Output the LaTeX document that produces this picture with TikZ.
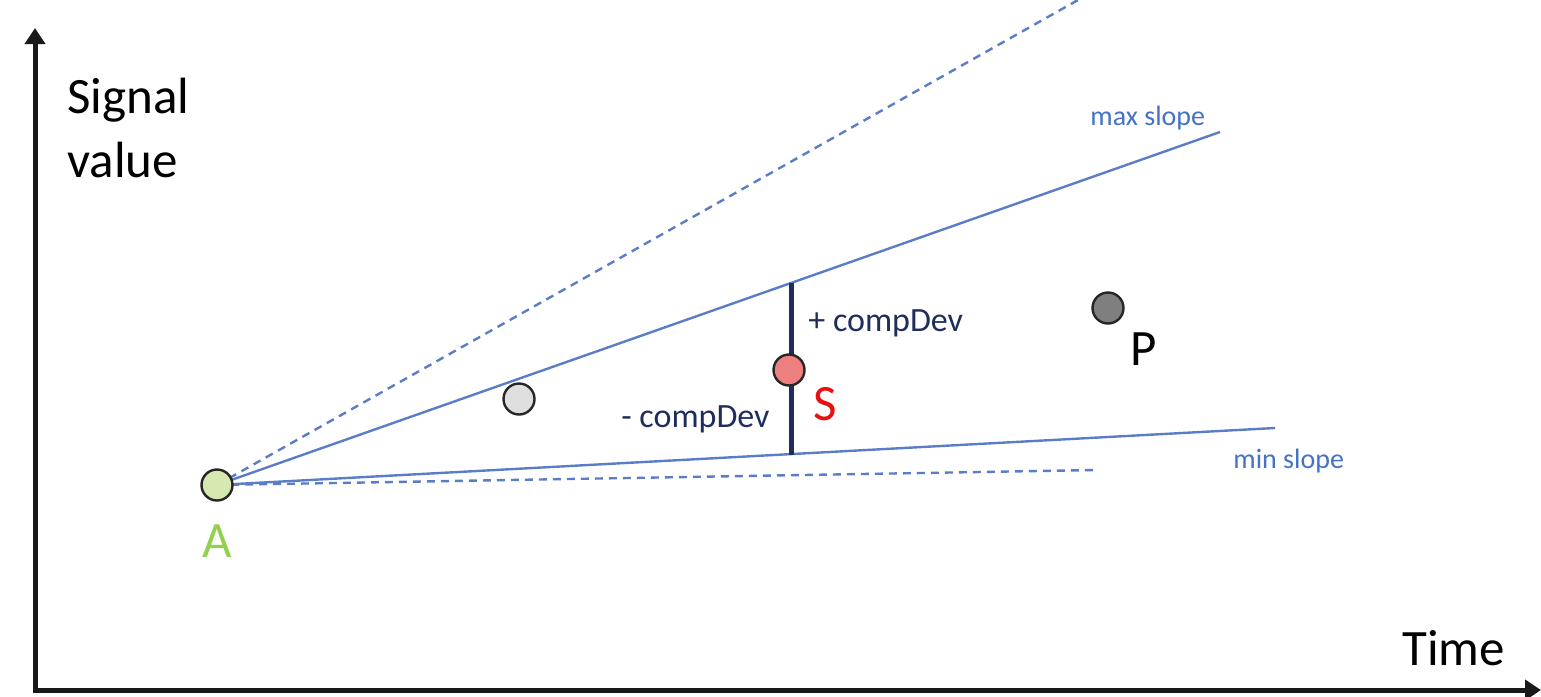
\documentclass[tikz,border=0pt]{standalone}
\usepackage{fontspec}
\setmainfont{Carlito}
\usetikzlibrary{arrows.meta}
\definecolor{lineblue}{HTML}{5B7DC8}
\definecolor{labelblue}{HTML}{4472C4}
\definecolor{navy}{HTML}{1F2D5E}
\definecolor{afill}{HTML}{D5E8B0}
\definecolor{agreen}{HTML}{92D050}
\definecolor{sfill}{HTML}{EE7F7F}
\definecolor{sred}{HTML}{E81010}
\definecolor{pfill}{HTML}{7F7F7F}
\definecolor{gfill}{HTML}{DFDFDF}
\begin{document}
\begin{tikzpicture}[x=0.5pt,y=-0.5pt,
  pt/.style={circle,draw=black!85,line width=1.2pt,minimum size=15.5pt,inner sep=0pt},
  big/.style={font=\fontsize{25.5}{32}\selectfont,inner sep=0pt,anchor=base},
  dev/.style={font=\fontsize{17}{20}\selectfont,text=navy,inner sep=0pt,anchor=base west},
  slopelab/.style={font=\fontsize{14}{16}\selectfont,text=labelblue,inner sep=0pt,anchor=base west},
  axis/.style={line width=2.5pt,black!90,{Triangle[width=10pt,length=8pt]}-{Triangle[width=10pt,length=8pt]}},
  sl/.style={lineblue,line width=1.2pt},
  dsl/.style={lineblue,line width=1.2pt,dash pattern=on 4pt off 3pt},
  bar/.style={navy,line width=2.5pt}]
\useasboundingbox (0,0) rectangle (1541,696);

% axes
\coordinate (Ytop) at (35,28);
\coordinate (O) at (35,690);
\coordinate (Xend) at (1541,690);
\draw[axis] (Ytop) -- (O) -- (Xend);

% axis labels
\node[big,anchor=base west] (ylab1) at (67,113) {Signal};
\node[big,anchor=base west] (ylab2) at (67,177) {value};
\node[big,anchor=base west] (xlab) at (1402,665) {Time};

% point positions
\coordinate (Ac) at (217,485);
\coordinate (MaxEnd) at (1220,132);
\coordinate (MinEnd) at (1275,428);
\coordinate (DUp) at (1078,0);
\coordinate (DLow) at (1097,470);
\coordinate (BarTop) at (791,283);
\coordinate (BarBot) at (791,454.5);

% slope lines
\draw[dsl] (Ac) -- (DUp);
\draw[dsl] (Ac) -- (DLow);
\draw[sl] (Ac) -- (MaxEnd);
\draw[sl] (Ac) -- (MinEnd);

% compDev bar
\draw[bar] (BarTop) -- (BarBot);

% points
\node[pt,fill=afill] (A) at (Ac) {};
\node[pt,fill=gfill] (G) at (519,399) {};
\node[pt,fill=sfill] (S) at (789,370) {};
\node[pt,fill=pfill] (P) at (1108,308) {};

% point labels
\node[big,text=agreen] (Alab) at (217,557) {A};
\node[big,text=sred] (Slab) at (825,420) {S};
\node[big,text=black] (Plab) at (1144,365) {P};

% compDev labels
\node[dev] (pdev) at (808,331) {+ compDev};
\node[dev] (mdev) at (621,427) {- compDev};

% slope labels
\node[slopelab] (maxlab) at (1090,125) {max slope};
\node[slopelab] (minlab) at (1233,468) {min slope};
\end{tikzpicture}
\end{document}
